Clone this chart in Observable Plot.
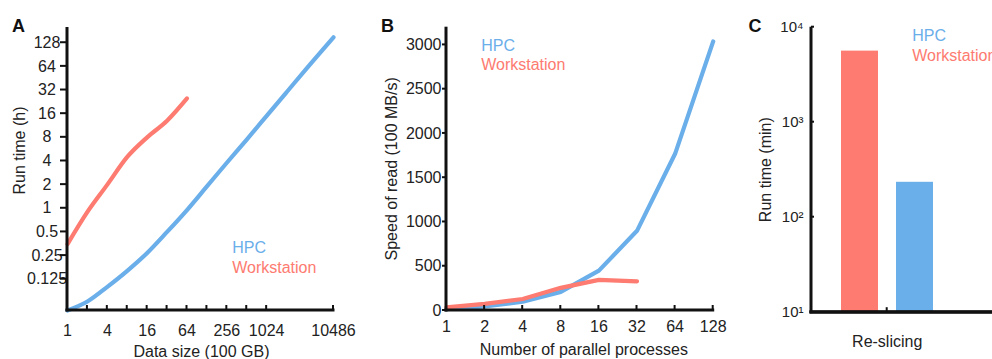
<!DOCTYPE html>
<html>
<head>
<meta charset="utf-8">
<script src="https://cdn.jsdelivr.net/npm/d3@7"></script>
<script src="https://cdn.jsdelivr.net/npm/@observablehq/plot@0.6"></script>
<style>
html, body { margin: 0; padding: 0; background: #fff; overflow: hidden; width: 992px; height: 359px; }
#root { position: relative; width: 992px; height: 359px; font-family: "Liberation Sans", Arial, Helvetica, sans-serif; overflow: hidden; }
#row { display: flex; flex-direction: row; align-items: flex-start; width: 992px; height: 359px; }
#row > svg { flex: 0 0 auto; }
</style>
</head>
<body>
<div id="root"><div id="row"></div></div>
<script>
// ---------------- DATA ----------------
const seriesNames = ["HPC", "Workstation"];
const seriesColors = ["#6aaeea", "#fd7b70"];
const panelLetters = ["A", "B", "C"];

// Panel A: run time (h) vs data size (100 GB)
const sizeA_hpc = [1, 2, 4, 8, 16, 32, 64, 128, 256, 512, 1024, 2048, 4096, 10486];
const hoursA_hpc = [0.05, 0.065, 0.1, 0.16, 0.27, 0.5, 0.95, 1.9, 3.8, 7.5, 15, 30, 60, 150];
const sizeA_ws = [1, 2, 4, 8, 16, 32, 64];
const hoursA_ws = [0.35, 0.9, 2, 4.5, 8, 13, 25];
const xTicksA = [1, 2, 4, 8, 16, 32, 64, 128, 256, 512, 1024, 10486];
const xLabelsA = [1, 4, 16, 64, 256, 1024, 10486];
const yTicksA = [0.125, 0.25, 0.5, 1, 2, 4, 8, 16, 32, 64, 128];
const xDomainA = [1, 10486];
const yDomainA = [0.05, 200];

// Panel B: speed of read (100 MB/s) vs number of parallel processes
const procsB_hpc = [1, 2, 4, 8, 16, 32, 64, 128];
const speedB_hpc = [15, 45, 100, 210, 450, 900, 1770, 3040];
const procsB_ws = [1, 2, 4, 8, 16, 32];
const speedB_ws = [35, 75, 130, 256, 346, 330];
const xTicksB = [1, 2, 4, 8, 16, 32, 64, 128];
const yTicksB = [0, 500, 1000, 1500, 2000, 2500, 3000];
const xDomainB = [1, 128];
const yDomainB = [0, 3200];

// Panel C: run time (min) for re-slicing
const taskC = ["Re-slicing"];
const barSeriesC = ["Workstation", "HPC"];
const barMinutesC = [5600, 233];
const yTicksC = [10, 100, 1000, 10000];
const yDomainC = [10, 10000];

// ---------------- HELPERS ----------------
const FONT = '"Liberation Sans", Arial, Helvetica, sans-serif';
const AXIS = "#111";
const colorOf = name => seriesColors[seriesNames.indexOf(name)];
const rows = (xs, ys, xk, yk) => xs.map((v, i) => ({[xk]: v, [yk]: ys[i]}));
const baseStyle = {fontFamily: FONT, fontSize: "16px", color: "#222", background: "transparent"};
const supMap = {"0": "⁰", "1": "¹", "2": "²", "3": "³", "4": "⁴", "5": "⁵"};
const pow10 = d => "10" + String(Math.round(Math.log10(d))).split("").map(c => supMap[c]).join("");

// filled-rect axis lines and ticks
const vAxis = (x, yd) => Plot.rect([0], {x1: x, x2: x, y1: yd[0], y2: yd[1], insetLeft: -1.5, insetRight: -1.5, insetBottom: -1.5, fill: AXIS});
const hAxis = (xd, y, extraRight = -1.5) => Plot.rect([0], {x1: xd[0], x2: xd[1], y1: y, y2: y, insetTop: -1.5, insetBottom: -1.5, insetLeft: -1.5, insetRight: extraRight, fill: AXIS});
const xTicksUp = (ticks, y, len) => Plot.rect(ticks, {x1: d => d, x2: d => d, y1: y, y2: y, insetLeft: -1, insetRight: -1, insetTop: -len, insetBottom: 0, fill: AXIS});
const yTicksLeft = (ticks, x, len) => Plot.rect(ticks, {x1: x, x2: x, y1: d => d, y2: d => d, insetLeft: -len, insetRight: 0, insetTop: -1, insetBottom: -1, fill: AXIS});

function legend(dx, dy0, gap) {
  return seriesNames.map((name, i) =>
    Plot.text([name], {frameAnchor: "top-left", dx, dy: dy0 + i * gap, text: d => d,
      fill: colorOf(name), textAnchor: "start", lineAnchor: "middle", fontSize: 16}));
}
function letter(l, dx, dy) {
  return Plot.text([l], {frameAnchor: "top-left", dx, dy, text: d => d, fontWeight: "bold",
    fontSize: 18, fill: "#111", textAnchor: "start", lineAnchor: "top"});
}
const row = document.getElementById("row");

// ---------------- PANEL A ----------------
const dataA_hpc = rows(sizeA_hpc, hoursA_hpc, "size", "hours");
const dataA_ws = rows(sizeA_ws, hoursA_ws, "size", "hours");
const plotA = Plot.plot({
  width: 360, height: 359,
  marginLeft: 67, marginRight: 27, marginTop: 27, marginBottom: 49,
  style: baseStyle,
  x: {type: "log", base: 2, domain: xDomainA},
  y: {type: "log", base: 2, domain: yDomainA},
  marks: [
    Plot.line(dataA_hpc, {x: "size", y: "hours", stroke: colorOf("HPC"), strokeWidth: 4.2, curve: "monotone-x"}),
    Plot.line(dataA_ws, {x: "size", y: "hours", stroke: colorOf("Workstation"), strokeWidth: 4.2, curve: "monotone-x"}),
    Plot.axisX({ticks: xLabelsA, tickSize: 0, tickPadding: 14, tickFormat: d => String(d), label: null}),
    Plot.axisY({ticks: yTicksA, tickSize: 0, tickPadding: 20.5, textAnchor: "middle", tickFormat: d => String(d), label: null}),
    xTicksUp(xTicksA, yDomainA[0], 5),
    yTicksLeft(yTicksA, xDomainA[0], 7),
    vAxis(xDomainA[0], yDomainA),
    hAxis(xDomainA, yDomainA[0]),
    Plot.text(["Data size (100 GB)"], {frameAnchor: "bottom", dx: 1, dy: 41, text: d => d, textAnchor: "middle", lineAnchor: "middle"}),
    Plot.text(["Run time (h)"], {frameAnchor: "left", dx: -48, dy: -18.5, rotate: -90, text: d => d, textAnchor: "middle", lineAnchor: "middle"}),
    ...legend(164.7, 220.5, 19.5),
    letter(panelLetters[0], -55.5, -8.7)
  ]
});
row.appendChild(plotA);

// ---------------- PANEL B ----------------
const dataB_hpc = rows(procsB_hpc, speedB_hpc, "procs", "speed");
const dataB_ws = rows(procsB_ws, speedB_ws, "procs", "speed");
const plotB = Plot.plot({
  width: 370, height: 359,
  marginLeft: 86, marginRight: 17.3, marginTop: 26.7, marginBottom: 49,
  style: baseStyle,
  x: {type: "log", base: 2, domain: xDomainB},
  y: {type: "linear", domain: yDomainB},
  marks: [
    Plot.line(dataB_hpc, {x: "procs", y: "speed", stroke: colorOf("HPC"), strokeWidth: 4.2}),
    Plot.line(dataB_ws, {x: "procs", y: "speed", stroke: colorOf("Workstation"), strokeWidth: 4.2}),
    Plot.axisX({ticks: xTicksB, tickSize: 0, tickPadding: 10, tickFormat: d => String(d), label: null}),
    Plot.axisY({ticks: yTicksB, tickSize: 0, tickPadding: 5, tickFormat: d => String(d), label: null}),
    xTicksUp(xTicksB, yDomainB[0], 5),
    yTicksLeft(yTicksB, xDomainB[0], 4),
    vAxis(xDomainB[0], yDomainB),
    hAxis(xDomainB, yDomainB[0]),
    Plot.text(["Number of parallel processes"], {frameAnchor: "bottom", dx: 4, dy: 39, text: d => d, textAnchor: "middle", lineAnchor: "middle"}),
    Plot.text(["Speed of read (100 MB/s)"], {frameAnchor: "left", dx: -54.5, dy: 0, rotate: -90, text: d => d, textAnchor: "middle", lineAnchor: "middle"}),
    ...legend(34.7, 18.3, 19.5),
    letter(panelLetters[1], -65.5, -8.4)
  ]
});
row.appendChild(plotB);

// ---------------- PANEL C ----------------
const frameWC = 262 - 81 - 29.6;
const dataC = barSeriesC.map((s, i) => ({task: taskC[0], series: s, minutes: barMinutesC[i]}));
const plotC = Plot.plot({
  width: 262, height: 359,
  marginLeft: 81, marginRight: 29.6, marginTop: 26.7, marginBottom: 47.3,
  style: baseStyle,
  x: {type: "band", domain: barSeriesC, paddingInner: 0.323, paddingOuter: 0.52, axis: null},
  y: {type: "log", base: 10, domain: yDomainC},
  marks: [
    Plot.barY(dataC, {x: "series", y1: yDomainC[0], y2: "minutes", fill: d => colorOf(d.series)}),
    Plot.axisY({ticks: yTicksC, tickSize: 0, tickPadding: 8, tickFormat: pow10, label: null, fontSize: 15}),
    // inward y ticks
    Plot.rect(yTicksC.slice(1), {y1: d => d, y2: d => d, insetLeft: 0, insetRight: frameWC - 3, insetTop: -1, insetBottom: -1, fill: AXIS}),
    // left axis line
    Plot.rect([0], {y1: yDomainC[0], y2: yDomainC[1], insetLeft: -1.5, insetRight: frameWC - 1.5, insetBottom: -1.5, fill: AXIS}),
    // bottom axis line, running to the page edge
    Plot.ruleY([yDomainC[0]], {stroke: AXIS, strokeWidth: 3, strokeLinecap: "square", insetRight: -40}),
    Plot.rect([0], {y1: yDomainC[0], y2: yDomainC[0], insetLeft: -1.5, insetRight: -40, insetTop: -1.5, insetBottom: -1.5, fill: AXIS}),
    // category tick at the centre
    Plot.rect(taskC, {y1: yDomainC[0], y2: yDomainC[0], insetLeft: frameWC / 2 - 1, insetRight: frameWC / 2 - 1, insetTop: -4.5, insetBottom: 0, fill: AXIS}),
    Plot.text(taskC, {frameAnchor: "bottom", dy: 30, text: d => d, textAnchor: "middle", lineAnchor: "middle"}),
    Plot.text(["Run time (min)"], {frameAnchor: "left", dx: -46, dy: 0, rotate: -90, text: d => d, textAnchor: "middle", lineAnchor: "middle"}),
    ...legend(100.7, 9.1, 20),
    letter(panelLetters[2], -63, -8.4)
  ]
});
row.appendChild(plotC);
</script>
</body>
</html>
